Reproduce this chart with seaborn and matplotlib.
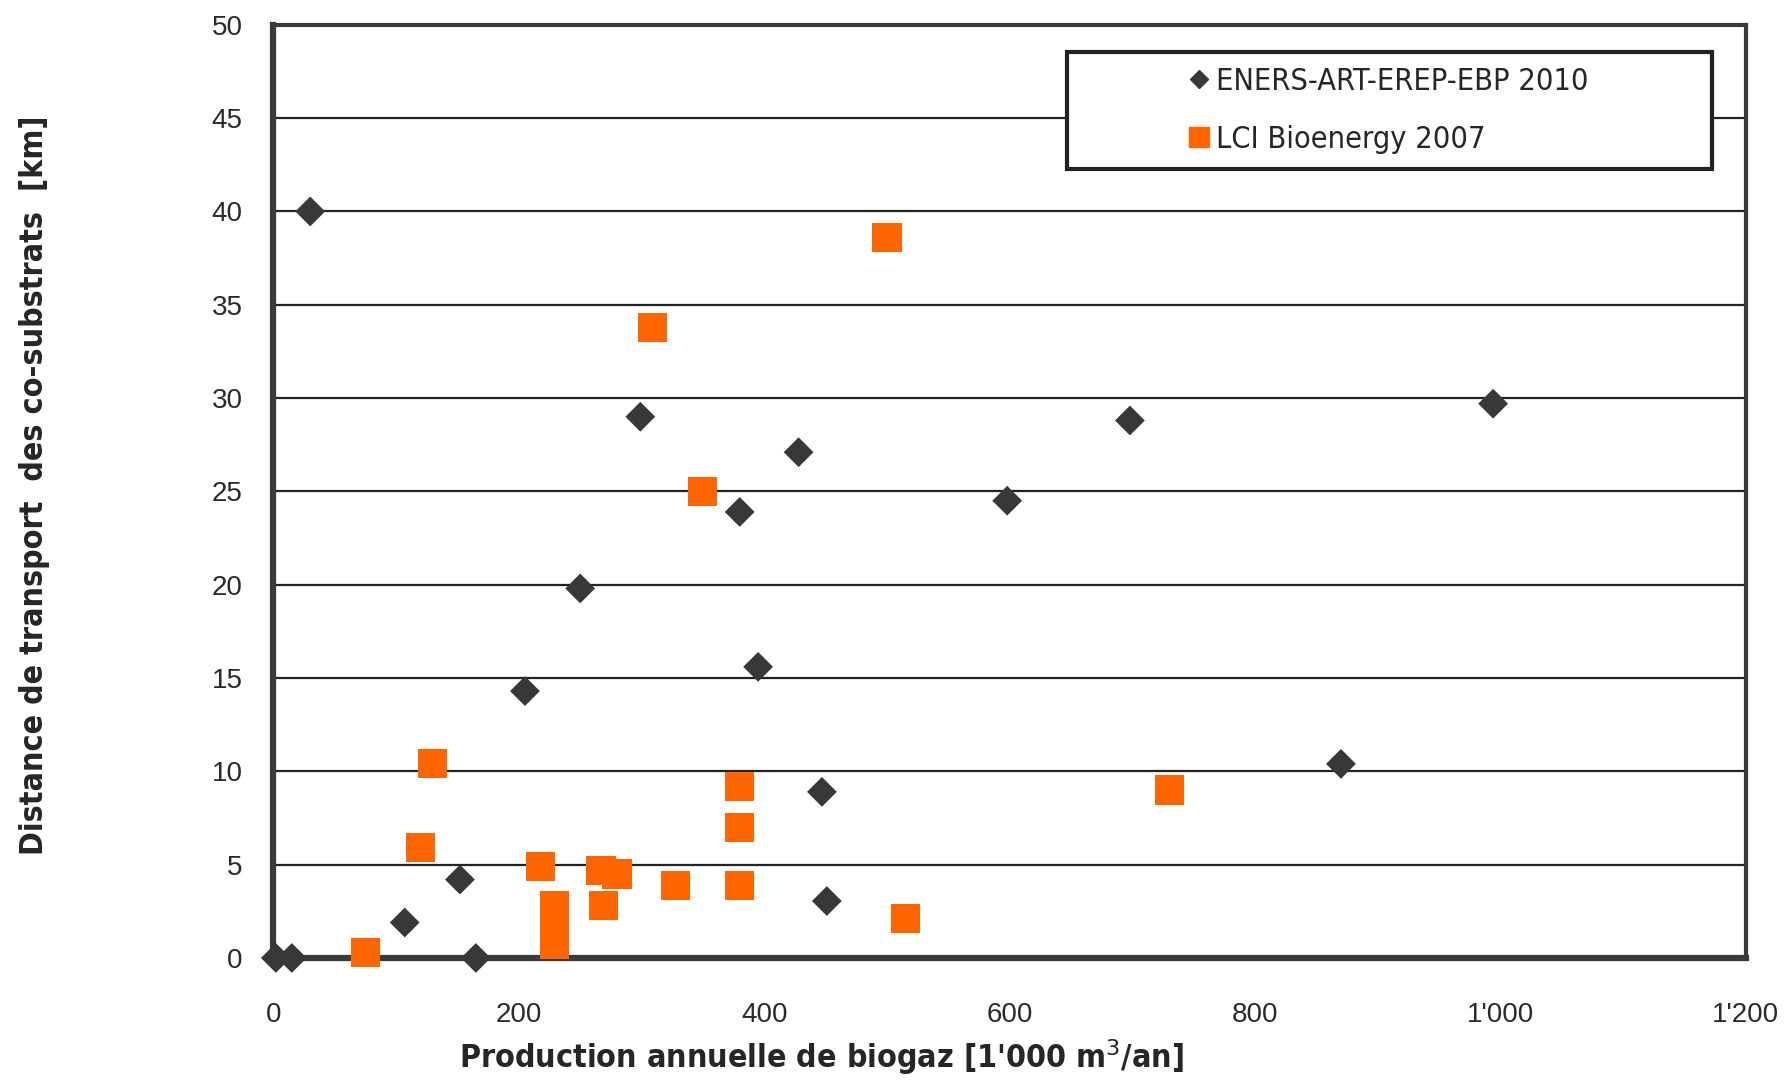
import matplotlib
matplotlib.use("Agg")
import matplotlib.pyplot as plt
import seaborn as sns
import pandas as pd
from matplotlib.lines import Line2D

# ENERS-ART-EREP-EBP 2010
eners_x = [2, 15, 30, 107, 152, 165, 205, 250, 299, 380, 395, 428, 447, 451, 598, 698, 870, 994]
eners_y = [0, 0, 40, 1.9, 4.2, 0, 14.3, 19.8, 29, 23.9, 15.6, 27.1, 8.9, 3.05, 24.5, 28.8, 10.4, 29.7]

# LCI Bioenergy 2007
lci_x = [75, 120, 130, 218, 229, 229, 229, 229, 229, 267, 280, 269, 309, 328, 350, 380, 380, 380, 500, 515, 730]
lci_y = [0.3, 5.9, 10.4, 4.9, 0.7, 1.2, 1.7, 2.2, 2.8, 4.7, 4.5, 2.8, 33.8, 3.9, 25, 9.2, 7.0, 3.9, 38.6, 2.1, 9.0]

labels = ["ENERS-ART-EREP-EBP 2010", "LCI Bioenergy 2007"]
x_ticks = [0, 200, 400, 600, 800, 1000, 1200]
x_ticklabels = ["0", "200", "400", "600", "800", "1'000", "1'200"]
y_ticks = [0, 5, 10, 15, 20, 25, 30, 35, 40, 45, 50]

df = pd.DataFrame({
    "x": eners_x + lci_x,
    "y": eners_y + lci_y,
    "source": [labels[0]] * len(eners_x) + [labels[1]] * len(lci_x),
})

sns.set_style("white")
plt.rcParams["font.family"] = ["Liberation Sans", "DejaVu Sans"]
narrow = ["Liberation Sans Narrow", "DejaVu Sans Condensed", "DejaVu Sans"]

fig = plt.figure(figsize=(17.87, 10.8), dpi=100)
ax = fig.add_axes([0.153, 0.113, 0.824, 0.864])

for y in y_ticks[1:-1]:
    ax.axhline(y, color="#222222", lw=1.6, zorder=0)

sns.scatterplot(data=df, x="x", y="y", hue="source", style="source",
                palette={labels[0]: "#383838", labels[1]: "#ff6600"},
                markers={labels[0]: "D", labels[1]: "s"},
                size="source", sizes={labels[0]: 230, labels[1]: 440},
                linewidth=0, ax=ax, zorder=3, clip_on=False, legend=False)

ax.set_xlim(0, 1200)
ax.set_ylim(0, 50)
ax.set_xticks(x_ticks)
ax.set_xticklabels(x_ticklabels)
ax.set_yticks(y_ticks)
ax.tick_params(axis="both", length=0, labelsize=20, labelcolor="#2a2a2a")
ax.tick_params(axis="y", pad=22)
ax.tick_params(axis="x", pad=32)

for side in ["left", "bottom"]:
    ax.spines[side].set_linewidth(4.5)
    ax.spines[side].set_color("#3a3a3a")
for side in ["top", "right"]:
    ax.spines[side].set_linewidth(3)
    ax.spines[side].set_color("#3a3a3a")

ax.set_xlabel("Production annuelle de biogaz [1'000 m$^3$/an]", fontsize=23,
              fontweight="bold", family=narrow, fontstretch="condensed")
ax.xaxis.set_label_coords(0.372, -0.085)
ax.set_ylabel("Distance de transport  des co-substrats  [km]", fontsize=23,
              fontweight="bold", family=narrow, fontstretch="condensed")
ax.yaxis.set_label_coords(-0.152, 0.507)

# legend
handles = [
    Line2D([], [], marker="D", color="#383838", ls="none", markersize=9),
    Line2D([], [], marker="s", color="#ff6600", ls="none", markersize=14),
]
leg = ax.legend(handles, labels, loc="upper left",
                bbox_to_anchor=(0.539, 0.842, 0.438, 0.129), mode="expand",
                frameon=True, fancybox=False,
                prop={"family": narrow, "size": 22, "stretch": "condensed"},
                handlelength=7.66, handletextpad=-3.27, borderpad=0.5,
                labelspacing=0.94, borderaxespad=0)
frame = leg.get_frame()
frame.set_edgecolor("#222222")
frame.set_linewidth(3)
frame.set_facecolor("white")
frame.set_alpha(1)
leg.set_zorder(5)

fig.savefig("out.png", dpi=100)
